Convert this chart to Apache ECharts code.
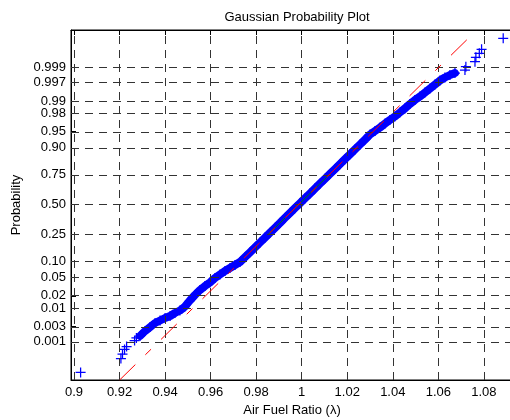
<!DOCTYPE html>
<html><head><meta charset="utf-8">
<script src="https://cdn.jsdelivr.net/npm/echarts@6/dist/echarts.min.js"></script>
<style>html,body{margin:0;padding:0;background:#fff}#c{width:510px;height:420px}</style>
</head><body><div id="c"></div>
<script>
// ---- data ----
const titleText = 'Gaussian Probability Plot';
const xName = 'Air Fuel Ratio (\u03bb)';
const yName = 'Probability';
const xTickValues = [0.9, 0.92, 0.94, 0.96, 0.98, 1.0, 1.02, 1.04, 1.06, 1.08];
const xTickLabels = ['0.9', '0.92', '0.94', '0.96', '0.98', '1', '1.02', '1.04', '1.06', '1.08'];
const probTicks = [0.001, 0.003, 0.01, 0.02, 0.05, 0.10, 0.25, 0.50, 0.75, 0.90, 0.95, 0.98, 0.99, 0.997, 0.999];
const probLabels = ['0.001', '0.003', '0.01', '0.02', '0.05', '0.10', '0.25', '0.50', '0.75', '0.90', '0.95', '0.98', '0.99', '0.997', '0.999'];
const xRange = [0.89868, 1.0928];
const zRange = [-3.948, 3.935];   // normal-score limits of the probability axis

// sorted samples: air fuel ratio and their normal score (probit of plotting position)
const airFuelRatio = [
  0.9029, 0.9206, 0.9213, 0.9222, 0.9231, 0.9266, 0.9274,
  0.9290, 0.9312, 0.9334, 0.9356, 0.9378, 0.9400, 0.9422, 0.9443, 0.9465, 0.9487,
  0.9509, 0.9531, 0.9553, 0.9575, 0.9597, 0.9619, 0.9641, 0.9663, 0.9685, 0.9707,
  0.9729, 0.9751, 0.9773, 0.9795, 0.9817, 0.9839, 0.9861, 0.9883, 0.9905, 0.9926,
  0.9948, 0.9970, 0.9992, 1.0014, 1.0036, 1.0058, 1.0080, 1.0102, 1.0124, 1.0146,
  1.0168, 1.0190, 1.0212, 1.0234, 1.0256, 1.0278, 1.0300, 1.0322, 1.0344, 1.0366,
  1.0387, 1.0409, 1.0431, 1.0453, 1.0475, 1.0497, 1.0519, 1.0541, 1.0563, 1.0585,
  1.0607, 1.0629, 1.0651, 1.0673,
  1.0717, 1.0721, 1.0761, 1.0765, 1.0780, 1.0790, 1.0885
];
const normalScore = [
  -3.779, -3.464, -3.363, -3.261, -3.194, -3.059, -3.002,
  -2.957, -2.845, -2.755, -2.664, -2.608, -2.552, -2.507, -2.439, -2.383, -2.293,
  -2.158, -2.034, -1.921, -1.831, -1.752, -1.651, -1.572, -1.493, -1.426, -1.358,
  -1.291, -1.182, -1.072, -0.962, -0.851, -0.741, -0.631, -0.520, -0.410, -0.300,
  -0.189, -0.079, 0.032, 0.142, 0.252, 0.363, 0.473, 0.583, 0.694, 0.804,
  0.914, 1.025, 1.135, 1.245, 1.356, 1.466, 1.581, 1.660, 1.739, 1.829,
  1.908, 1.986, 2.077, 2.167, 2.268, 2.358, 2.437, 2.527, 2.617, 2.707,
  2.797, 2.865, 2.921, 2.966,
  3.034, 3.108, 3.221, 3.320, 3.410, 3.500, 3.748
];
const denseBandRange = [7, 71]; // indices of the densely packed part of the sample
const fitMean = 0.9986;
const fitStd = 0.0199;

// ---- probit scale helper ----
function norminv(p) {
  const a = [-3.969683028665376e+01, 2.209460984245205e+02, -2.759285104469687e+02, 1.383577518672690e+02, -3.066479806614716e+01, 2.506628277459239e+00];
  const b = [-5.447609879822406e+01, 1.615858368580409e+02, -1.556989798598866e+02, 6.680131188771972e+01, -1.328068155288572e+01];
  const c = [-7.784894002430293e-03, -3.223964580411365e-01, -2.400758277161838e+00, -2.549732539343734e+00, 4.374664141464968e+00, 2.938163982698783e+00];
  const d = [7.784695709041462e-03, 3.224671290700398e-01, 2.445134137142996e+00, 3.754408661907416e+00];
  const pl = 0.02425;
  if (p < pl) { const q = Math.sqrt(-2 * Math.log(p)); return (((((c[0]*q+c[1])*q+c[2])*q+c[3])*q+c[4])*q+c[5]) / ((((d[0]*q+d[1])*q+d[2])*q+d[3])*q+1); }
  if (p > 1 - pl) { const q = Math.sqrt(-2 * Math.log(1 - p)); return -(((((c[0]*q+c[1])*q+c[2])*q+c[3])*q+c[4])*q+c[5]) / ((((d[0]*q+d[1])*q+d[2])*q+d[3])*q+1); }
  const q = p - 0.5, r = q * q;
  return (((((a[0]*r+a[1])*r+a[2])*r+a[3])*r+a[4])*r+a[5])*q / (((((b[0]*r+b[1])*r+b[2])*r+b[3])*r+b[4])*r+1);
}
const zTicks = probTicks.map(norminv);
function probLabelFor(v) {
  let best = 0;
  zTicks.forEach((z, i) => { if (Math.abs(z - v) < Math.abs(zTicks[best] - v)) best = i; });
  return probLabels[best];
}
function xLabelFor(v) {
  let best = 0;
  xTickValues.forEach((t, i) => { if (Math.abs(t - v) < Math.abs(xTickValues[best] - v)) best = i; });
  return xTickLabels[best];
}

const points = airFuelRatio.map((x, i) => [x, normalScore[i]]);
const bandPts = points.slice(denseBandRange[0], denseBandRange[1]);
const qz = norminv(0.75);
const fitLine = [[fitMean + fitStd * zRange[0], zRange[0]], [fitMean + fitStd * zRange[1], zRange[1]]];
const quartileLine = [[fitMean - fitStd * qz, -qz], [fitMean + fitStd * qz, qz]];

const plusPath = 'path://M3.5,0h1v3.5h3.5v1h-3.5v3.5h-1v-3.5h-3.5v-1h3.5z';
const FONT = '"Liberation Sans", Arial, Helvetica, sans-serif';
const gridDash = { type: [8, 6], color: '#333', width: 1 };

const chart = echarts.init(document.getElementById('c'), null, { renderer: 'canvas' });
chart.setOption({
  animation: false,
  backgroundColor: '#fff',
  textStyle: { fontFamily: FONT },
  title: {
    text: titleText, left: 292, top: 6, textAlign: 'center',
    textStyle: { fontFamily: FONT, fontSize: 13, fontWeight: 'normal', color: '#000' }
  },
  grid: { left: 71, top: 30, right: -3, bottom: 40, show: true, borderColor: '#000', borderWidth: 1, backgroundColor: '#fff', containLabel: false, outerBoundsMode: 'none' },
  xAxis: [{
    type: 'value', min: xRange[0], max: xRange[1],
    name: xName, nameLocation: 'middle', nameGap: 23,
    nameTextStyle: { fontFamily: FONT, fontSize: 13, color: '#000' },
    axisLine: { show: true, onZero: false, lineStyle: { color: '#000', width: 1 } },
    axisTick: { show: true, inside: true, length: 5, customValues: xTickValues, lineStyle: { color: '#000' } },
    axisLabel: { show: true, margin: 6, customValues: xTickValues, formatter: xLabelFor, fontFamily: FONT, fontSize: 13, color: '#000' },
    splitLine: { show: false }
  }, {
    type: 'value', position: 'top', min: xRange[0], max: xRange[1],
    axisLine: { show: true, onZero: false, lineStyle: { color: '#000', width: 1 } },
    axisTick: { show: true, inside: true, length: 5, customValues: xTickValues, lineStyle: { color: '#000' } },
    axisLabel: { show: false }, splitLine: { show: false }
  }],
  yAxis: {
    type: 'value', min: zRange[0], max: zRange[1],
    name: yName, nameLocation: 'middle', nameGap: 43, nameRotate: 90,
    nameTextStyle: { fontFamily: FONT, fontSize: 13, color: '#000' },
    axisLine: { show: true, onZero: false, lineStyle: { color: '#000', width: 1 } },
    axisTick: { show: true, inside: true, length: 5, customValues: zTicks, lineStyle: { color: '#000' } },
    axisLabel: { show: true, margin: 5, customValues: zTicks, formatter: probLabelFor, fontFamily: FONT, fontSize: 13, color: '#000' },
    splitLine: { show: false }
  },
  series: [
    {
      name: 'grid', type: 'line', data: [], silent: true, z: 1,
      markLine: {
        silent: true, symbol: ['none', 'none'], label: { show: false }, animation: false,
        lineStyle: gridDash, emphasis: { disabled: true },
        data: xTickValues.map(v => ({ xAxis: v })).concat(zTicks.map(v => ({ yAxis: v })))
      }
    },
    {
      name: 'dense', type: 'line', data: bandPts, showSymbol: false, symbol: 'none', z: 2, silent: true,
      lineStyle: { color: '#0000ff', width: 8, cap: 'round', join: 'round' }
    },
    {
      name: 'data', type: 'scatter', data: points, symbol: plusPath, symbolSize: 10, z: 3, silent: true,
      itemStyle: { color: '#0000ff', opacity: 1 }
    },
    {
      name: 'quartiles', type: 'line', data: quartileLine, symbol: 'none', z: 4, silent: true,
      lineStyle: { color: '#008000', width: 1 }
    },
    {
      name: 'fit', type: 'line', data: fitLine, symbol: 'none', z: 5, silent: true,
      lineStyle: { color: '#ff0000', width: 1, type: [22, 14, 8, 14] }
    }
  ]
});
</script>
</body></html>
